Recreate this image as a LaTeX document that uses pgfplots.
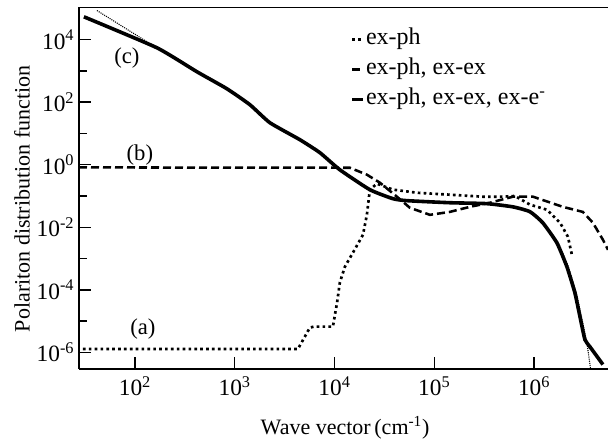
\documentclass[border=0pt]{standalone}
\usepackage{fontspec}
\setmainfont{Liberation Serif}
\usepackage{pgfplots}
\pgfplotsset{compat=1.18}
\begin{document}
\begin{tikzpicture}
\begin{axis}[
  scale only axis,
  width=396.75pt, height=271.5pt,
  xmode=log, ymode=log,
  xmin=27.5, xmax=5.5e6,
  ymin=2.95e-7, ymax=1.1e5,
  axis lines=left,
  axis line style={-, line width=1.1pt},
  tick align=inside,
  major tick length=9pt,
  minor tick length=6pt,
  every tick/.style={black, line width=1.1pt},
  xtick={1e2,1e3,1e4,1e5,1e6},
  xticklabels={10\textsuperscript{2},10\textsuperscript{3},10\textsuperscript{4},10\textsuperscript{5},10\textsuperscript{6}},
  ytick={1e-6,1e-4,1e-2,1,1e2,1e4},
  yticklabels={10\textsuperscript{-6},10\textsuperscript{-4},10\textsuperscript{-2},10\textsuperscript{0},10\textsuperscript{2},10\textsuperscript{4}},
  xminorticks=false,
  minor ytick={1e-5,1e-3,1e-1,10,1e3},
  tick label style={font=\fontsize{17.5}{20}\selectfont},
  xticklabel style={yshift=-2pt},
  yticklabel style={xshift=0pt},
  xlabel={Wave vector\,(cm\textsuperscript{-1})},
  ylabel={Polariton distribution function},
  label style={font=\fontsize{16.5}{20}\selectfont},
  xlabel style={at={(axis description cs:0.503,-0.163)}, anchor=center},
  ylabel style={at={(axis description cs:-0.108,0.47)}, anchor=center},
  legend style={draw=none, fill=none, at={(rel axis cs:0.505,0.952)}, anchor=north west,
    font=\fontsize{18}{20}\selectfont, row sep=4.5pt,
    nodes={inner sep=1pt, text height=12pt, text depth=4pt}},
  legend cell align=left,
  legend image code/.code={\draw[#1] (0pt,0pt) -- (8pt,0pt);},
]
\coordinate (LL) at (rel axis cs:0,0);
\coordinate (UR) at (rel axis cs:1,1);
\draw[line width=1.1pt] (rel axis cs:0,1) -- (rel axis cs:1,1);

% thin dotted reference line
\addplot[forget plot, black, line width=0.8pt, dash pattern=on 0.8pt off 0.8pt] coordinates {
(41.6,85000) (132,8500) (166,5470) (418,936) (835,268) (1420,82.6) (2250,22.0)
(4500,6.29) (7140,2.42) (11300,0.69) (22600,0.159) (38500,0.082) (53100,0.071)
(143000,0.061) (336000,0.057) (613000,0.045) (908000,0.0315) (1.24e6,0.014)
(1.75e6,0.0032) (2.2e6,5.5e-4) (2.65e6,8.1e-5) (2.98e6,1.39e-5) (3.38e6,2.06e-6) (3.79e6,1.5e-7)
};

% (a) ex-ph
\addplot[black, line width=2pt, dash pattern=on 2pt off 2.4pt] coordinates {
(30.1,1.29e-6) (4300,1.29e-6) (5660,6.2e-6) (6200,6.67e-6) (9630,6.67e-6) (10600,3.9e-5)
(11300,1.7e-4) (12700,5.5e-4) (15300,1.55e-3) (19300,5.8e-3) (21100,0.0253) (22600,0.16)
(26600,0.247) (38500,0.16) (67000,0.127) (143000,0.110) (307000,0.095) (454000,0.095)
(643000,0.10) (908000,0.053) (1.34e6,0.0365) (1.82e6,0.014) (2.18e6,0.005) (2.39e6,0.00133)
};
\addlegendentry{ex-ph}

% (b) ex-ph, ex-ex
\addplot[black, line width=1.9pt, dash pattern=on 6pt off 3pt] coordinates {
(27.5,0.82) (14250,0.80) (21100,0.48) (28500,0.266) (42200,0.095) (56900,0.042)
(90300,0.025) (143000,0.031) (227000,0.045) (361000,0.061) (613000,0.095) (973000,0.095)
(1.94e6,0.045) (3.08e6,0.031) (3.88e6,0.014) (4.89e6,0.004) (5.5e6,0.0019)
};
\addlegendentry{ex-ph, ex-ex}

% (c) ex-ph, ex-ex, ex-e
\addplot[black, line width=2.7pt, smooth, tension=0.3] coordinates {
(30.8,53500) (166,5470) (418,936) (835,268) (1420,82.6) (2250,22.0) (4500,6.29)
(7140,2.42) (11300,0.69) (22600,0.159) (38500,0.082) (53100,0.071) (143000,0.061)
(336000,0.057) (613000,0.045) (908000,0.0315) (1.22e6,0.014) (1.69e6,0.0032)
(2.13e6,5.5e-4) (2.56e6,8.1e-5) (2.88e6,1.39e-5) (3.23e6,2.56e-6) (3.62e6,1.53e-6)
(4.89e6,4.1e-7)
};
\addlegendentry{ex-ph, ex-ex, ex-e\textsuperscript{-}}

\node[font=\fontsize{17}{20}\selectfont] at (axis cs:83,2620) {(c)};
\node[font=\fontsize{17}{20}\selectfont] at (axis cs:112,2.1) {(b)};
\node[font=\fontsize{17}{20}\selectfont] at (axis cs:120,5.4e-6) {(a)};
\end{axis}
\pgfresetboundingbox
\path ([xshift=-59.25pt,yshift=-56.25pt]LL) rectangle ([yshift=5.25pt]UR);
\end{tikzpicture}
\end{document}
